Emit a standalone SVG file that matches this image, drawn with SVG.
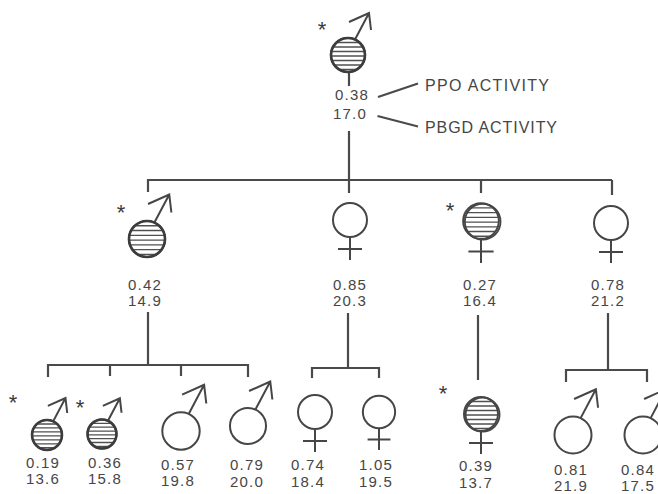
<svg xmlns="http://www.w3.org/2000/svg" xmlns:xlink="http://www.w3.org/1999/xlink" width="658" height="494" viewBox="0 0 658 494">
<style>
text{font-family:"Liberation Sans",Arial,Helvetica,sans-serif;font-size:15px;fill:#464646;letter-spacing:1.2px}
.n{text-anchor:middle}
.ast{font-size:22px;text-anchor:middle;letter-spacing:0;fill:#3a3a3a}
.lab{font-size:16px;letter-spacing:0}
.c{fill:none;stroke:#4a4a4a;stroke-width:2.2;stroke-linecap:butt}
</style>
<defs>
<clipPath id="clip"><circle r="16.5"/></clipPath>
<g id="hatch" clip-path="url(#clip)"><path d="M-18 -12.5H18M-18 -8H18M-18 -3.5H18M-18 1H18M-18 5.5H18M-18 10H18M-18 14.5H18" fill="none" stroke="#505050" stroke-width="1.3" vector-effect="non-scaling-stroke"/></g>
<g id="male"><circle r="17" fill="none" stroke="#464646" stroke-width="2" vector-effect="non-scaling-stroke"/><path d="M7 -15.5L21 -42M1 -33L21 -42L23 -25" fill="none" stroke="#464646" stroke-width="2" stroke-linejoin="miter" vector-effect="non-scaling-stroke"/></g>
<g id="female"><circle r="17" fill="none" stroke="#464646" stroke-width="2" vector-effect="non-scaling-stroke"/><path d="M0 17V40M-12 29H12" fill="none" stroke="#464646" stroke-width="2" vector-effect="non-scaling-stroke"/></g>
<g id="maleH"><use xlink:href="#hatch"/><use xlink:href="#male"/><circle r="17" fill="none" stroke="#3c3c3c" stroke-width="2.6" vector-effect="non-scaling-stroke"/></g>
<g id="femaleH"><use xlink:href="#hatch"/><use xlink:href="#female"/><circle cx="1.6" cy="0.6" r="17" fill="none" stroke="#464646" stroke-width="1.8" vector-effect="non-scaling-stroke"/></g>
</defs>
<rect width="658" height="494" fill="#ffffff"/>

<g id="connectors">
<path class="c" d="M349 72V86M349 131V180M148 180H612M148 179V192M349 180V193M481 180V193M612 180V195"/>
<path class="c" d="M378 97L418 83.5M377.5 116L418 126.5" stroke-width="1.8"/>
<path class="c" d="M148 312V365M48 365H248M48 364V377M110 365V376M181 365V376M248 364V377"/>
<path class="c" d="M348 313V368M312 368H379M312 367V378M379 367V378"/>
<path class="c" d="M478 315V380"/>
<path class="c" d="M608 313V370M566 370H647M566 369V382M647 369V382"/>
</g>

<g id="label-ppo"><text class="lab" x="425" y="91" textLength="124" lengthAdjust="spacing">PPO ACTIVITY</text></g>
<g id="label-pbgd"><text class="lab" x="425" y="133" textLength="132" lengthAdjust="spacing">PBGD ACTIVITY</text></g>

<g id="n-top">
<use xlink:href="#maleH" transform="translate(348,55)"/>
<text class="ast" x="322" y="37">*</text>
<text class="n" x="352" y="100">0.38</text>
<text class="n" x="350" y="119">17.0</text>
</g>

<g id="n-g2a">
<use xlink:href="#maleH" transform="translate(147,239) scale(1.06)"/>
<text class="ast" x="121" y="220">*</text>
<text class="n" x="145" y="290">0.42</text>
<text class="n" x="145" y="306">14.9</text>
</g>
<g id="n-g2b">
<use xlink:href="#female" transform="translate(350,220)"/>
<text class="n" x="350" y="290">0.85</text>
<text class="n" x="350" y="306">20.3</text>
</g>
<g id="n-g2c">
<use xlink:href="#femaleH" transform="translate(481,221) scale(1.05)"/>
<text class="ast" x="450" y="218">*</text>
<text class="n" x="480" y="290">0.27</text>
<text class="n" x="480" y="306">16.4</text>
</g>
<g id="n-g2d">
<use xlink:href="#female" transform="translate(611,223)"/>
<text class="n" x="608" y="290">0.78</text>
<text class="n" x="608" y="306">21.2</text>
</g>

<g id="n-g3-1">
<use xlink:href="#maleH" transform="translate(47,435) scale(0.88)"/>
<text class="ast" x="13" y="410">*</text>
<text class="n" x="43" y="468">0.19</text>
<text class="n" x="43" y="484">13.6</text>
</g>
<g id="n-g3-2">
<use xlink:href="#maleH" transform="translate(102,434) scale(0.85)"/>
<text class="ast" x="80" y="415">*</text>
<text class="n" x="105" y="468">0.36</text>
<text class="n" x="105" y="484">15.8</text>
</g>
<g id="n-g3-3">
<use xlink:href="#male" transform="translate(181,431) scale(1.1)"/>
<text class="n" x="178" y="470">0.57</text>
<text class="n" x="178" y="486">19.8</text>
</g>
<g id="n-g3-4">
<use xlink:href="#male" transform="translate(248,426) scale(1.06)"/>
<text class="n" x="247" y="470">0.79</text>
<text class="n" x="247" y="487">20.0</text>
</g>
<g id="n-g3-5">
<use xlink:href="#female" transform="translate(315,412)"/>
<text class="n" x="308" y="470">0.74</text>
<text class="n" x="308" y="487">18.4</text>
</g>
<g id="n-g3-6">
<use xlink:href="#female" transform="translate(379,412) scale(0.95)"/>
<text class="n" x="376" y="470">1.05</text>
<text class="n" x="376" y="487">19.5</text>
</g>
<g id="n-g3-7">
<use xlink:href="#femaleH" transform="translate(481,414)"/>
<text class="ast" x="443" y="401">*</text>
<text class="n" x="476" y="471">0.39</text>
<text class="n" x="476" y="488">13.7</text>
</g>
<g id="n-g3-8">
<use xlink:href="#male" transform="translate(573,435) scale(1.09)"/>
<text class="n" x="571" y="475">0.81</text>
<text class="n" x="571" y="491">21.9</text>
</g>
<g id="n-g3-9">
<use xlink:href="#male" transform="translate(643,435) scale(1.09)"/>
<text class="n" x="638" y="475">0.84</text>
<text class="n" x="638" y="491">17.5</text>
</g>
</svg>
